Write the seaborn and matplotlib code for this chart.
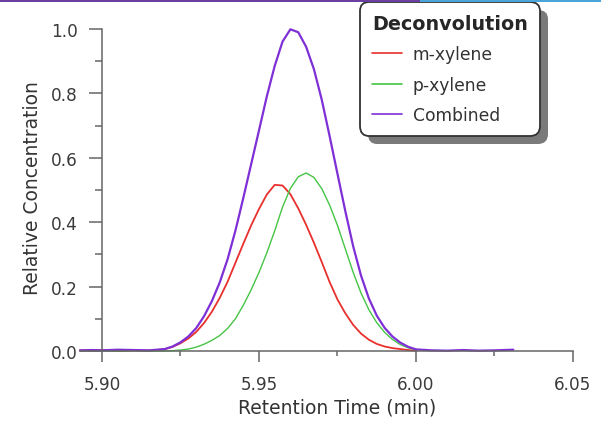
import matplotlib
matplotlib.use('Agg')
import matplotlib.pyplot as plt
from matplotlib.lines import Line2D
from matplotlib.patches import Rectangle
from matplotlib.ticker import MultipleLocator, FormatStrFormatter
import seaborn as sns

# retention time (min) and relative concentration
rt = [5.893, 5.897, 5.900, 5.905, 5.910, 5.915, 5.9175,
      5.920, 5.9225, 5.925, 5.9275, 5.930, 5.9325, 5.935, 5.9375,
      5.940, 5.9425, 5.945, 5.9475, 5.950, 5.9525, 5.955, 5.9575,
      5.960, 5.9625, 5.965, 5.9675, 5.970, 5.9725, 5.975, 5.9775,
      5.980, 5.9825, 5.985, 5.9875, 5.990, 5.9925, 5.995, 5.9975, 6.000]

m_xylene = [0.002, 0.001, 0.003, 0.000, 0.002, 0.001, 0.003,
            0.006, 0.013, 0.024, 0.039, 0.059, 0.087, 0.122, 0.165,
            0.215, 0.274, 0.333, 0.390, 0.441, 0.486, 0.516, 0.514,
            0.487, 0.443, 0.392, 0.336, 0.276, 0.214, 0.160, 0.117,
            0.081, 0.054, 0.035, 0.022, 0.014, 0.009, 0.006, 0.003, 0.001]

p_xylene = [0.000, 0.001, 0.000, 0.000, 0.001, 0.000, 0.000,
            0.000, 0.001, 0.003, 0.006, 0.012, 0.021, 0.033, 0.048,
            0.070, 0.100, 0.142, 0.190, 0.244, 0.305, 0.373, 0.447,
            0.505, 0.541, 0.553, 0.539, 0.504, 0.453, 0.390, 0.317,
            0.244, 0.180, 0.128, 0.088, 0.058, 0.036, 0.020, 0.010, 0.004]

combined = [0.002, 0.003, 0.002, 0.004, 0.003, 0.002, 0.004,
            0.006, 0.014, 0.027, 0.045, 0.071, 0.108, 0.155, 0.213,
            0.285, 0.374, 0.475, 0.580, 0.685, 0.791, 0.885, 0.961,
            0.999, 0.990, 0.945, 0.875, 0.780, 0.667, 0.550, 0.434,
            0.325, 0.234, 0.163, 0.110, 0.072, 0.045, 0.026, 0.013, 0.005]

rt_tail = [6.005, 6.010, 6.015, 6.020, 6.025, 6.031]
combined_tail = [0.002, 0.001, 0.003, 0.001, 0.002, 0.004]

labels = ['m-xylene', 'p-xylene', 'Combined']
colors = ['#e8302c', '#45c445', '#7f2fd6']

sns.set_theme(style='ticks')
plt.rcParams['font.family'] = ['DejaVu Sans']

fig = plt.figure(figsize=(6.01, 4.27), dpi=100)
ax = fig.add_axes([80 / 601, 75 / 427, 493 / 601, 322 / 427])

sns.lineplot(x=rt, y=m_xylene, color=colors[0], lw=1.3, ax=ax, clip_on=False)
sns.lineplot(x=rt, y=p_xylene, color=colors[1], lw=1.0, ax=ax, clip_on=False)
sns.lineplot(x=rt + rt_tail, y=combined + combined_tail, color=colors[2],
             lw=1.6, ax=ax, clip_on=False)

ax.set_xlim(5.893, 6.05)
ax.set_ylim(0, 1.0)
ax.xaxis.set_major_locator(MultipleLocator(0.05))
ax.xaxis.set_minor_locator(MultipleLocator(0.025))
ax.xaxis.set_major_formatter(FormatStrFormatter('%.2f'))
ax.yaxis.set_major_locator(MultipleLocator(0.2))
ax.yaxis.set_minor_locator(MultipleLocator(0.1))

for side in ['top', 'right']:
    ax.spines[side].set_visible(False)
ax.spines['left'].set_position(('data', 5.90))
ax.spines['left'].set_bounds(0, 1.0)
for side in ['left', 'bottom']:
    ax.spines[side].set_color('#666666')
    ax.spines[side].set_linewidth(1.1)

ax.tick_params(axis='y', which='major', length=9.5, width=1.1, color='#666666',
               pad=8, labelsize=12.2, labelcolor='#3a3a3a')
ax.tick_params(axis='y', which='minor', length=5, width=1.1, color='#666666')
ax.tick_params(axis='x', which='major', length=8, width=1.1, color='#666666',
               pad=9, labelsize=12.2, labelcolor='#3a3a3a')
ax.tick_params(axis='x', which='minor', length=3.5, width=1.1, color='#666666')

ax.set_xlabel('Retention Time (min)', fontsize=13.5, color='#333333')
ax.set_ylabel('Relative Concentration', fontsize=13.5, color='#333333')
ax.xaxis.set_label_coords(0.521, -0.143)
ax.yaxis.set_label_coords(-0.077, 0.509)

handles = [Line2D([], [], color=c, lw=1.2) for c in colors]
leg_kw = dict(title='Deconvolution', loc='upper left', bbox_transform=fig.transFigure,
              borderaxespad=0, prop={'size': 12.3},
              title_fontproperties={'weight': 'bold', 'size': 13.8},
              alignment='left', handlelength=1.75, handletextpad=0.65,
              borderpad=0.7, labelspacing=0.72, fancybox=True, framealpha=1)

# drop shadow behind the legend box
shade = ax.legend(handles, labels, bbox_to_anchor=(368 / 601, (427 - 11) / 427),
                  facecolor='#7a7a7a', edgecolor='none', **leg_kw)
for t in shade.get_texts():
    t.set_alpha(0)
shade.get_title().set_alpha(0)
for h in shade.legend_handles:
    h.set_alpha(0)
shade.get_frame().set_boxstyle('round,pad=0,rounding_size=0.55')
shade.set_zorder(4.9)
ax.add_artist(shade)

leg = ax.legend(handles, labels, bbox_to_anchor=(360 / 601, (427 - 3) / 427),
                facecolor='white', edgecolor='#333333', **leg_kw)
leg.get_frame().set_linewidth(1.3)
leg.get_frame().set_boxstyle('round,pad=0,rounding_size=0.55')
for t in leg.get_texts():
    t.set_color('#333333')

# thin coloured band at the very top of the slide
fig.add_artist(Rectangle((0, 1 - 3 / 427), 420 / 601, 3 / 427, transform=fig.transFigure,
                         color='#6b3fa0', lw=0))
fig.add_artist(Rectangle((420 / 601, 1 - 3 / 427), 181 / 601, 3 / 427,
                         transform=fig.transFigure, color='#4aa6d8', lw=0))

fig.savefig('out.png', dpi=100)
